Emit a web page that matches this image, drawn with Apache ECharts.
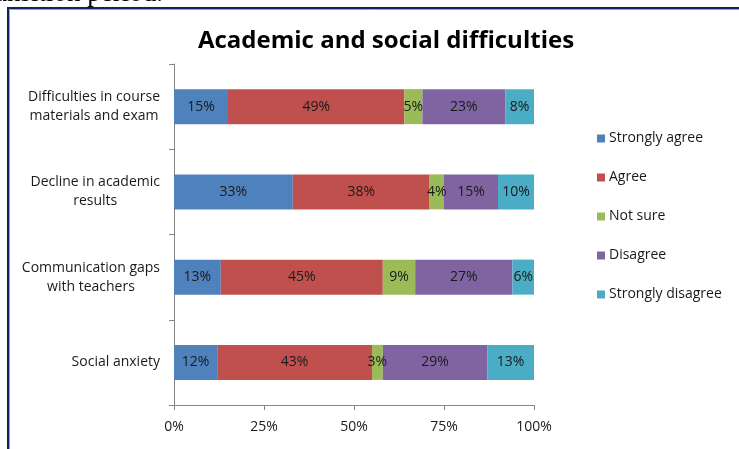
<!DOCTYPE html>
<html>
<head>
<meta charset="utf-8">
<script src="https://cdn.jsdelivr.net/npm/echarts@6/dist/echarts.min.js"></script>
<style>
  html, body {margin: 0; padding: 0; background: #fff;}
  #chart {width: 739px; height: 449px;}
</style>
</head>
<body>
<div id="chart"></div>
<script>
const categories = [
  'Difficulties in course\nmaterials and exam',
  'Decline in academic\nresults',
  'Communication gaps\nwith teachers',
  'Social anxiety'
];
const seriesNames = ['Strongly agree', 'Agree', 'Not sure', 'Disagree', 'Strongly disagree'];
const stronglyAgree = [15, 33, 13, 12];
const agree = [49, 38, 45, 43];
const notSure = [5, 4, 9, 3];
const disagree = [23, 15, 27, 29];
const stronglyDisagree = [8, 10, 6, 13];
const xTicks = [0, 25, 50, 75, 100];
const colors = ['#4F81BD', '#C0504D', '#9BBB59', '#8064A2', '#4BACC6'];

const font = '"Open Sans", Lato, sans-serif';
const allValues = [stronglyAgree, agree, notSure, disagree, stronglyDisagree];

const chart = echarts.init(document.getElementById('chart'));
chart.setOption({
  animation: false,
  color: colors,
  textStyle: {fontFamily: font},
  title: {
    text: 'Academic and social difficulties',
    left: 381,
    textAlign: 'center',
    top: 24,
    textStyle: {fontSize: 24, fontWeight: 'bold', color: '#000', fontFamily: font}
  },
  graphic: [
    {
      type: 'text',
      style: {
        text: 'transition period.',
        x: 163, y: -6,
        align: 'right',
        verticalAlign: 'middle',
        font: '27px "Liberation Serif", serif',
        fill: '#000'
      }
    },
    {
      type: 'rect',
      shape: {x: 8, y: 8, width: 800, height: 500},
      style: {fill: 'none', stroke: '#0f2466', lineWidth: 2}
    },
    {
      type: 'rect',
      shape: {x: 9.5, y: 9.5, width: 800, height: 500},
      style: {fill: 'none', stroke: '#8ea6d6', lineWidth: 1}
    }
  ],
  legend: {
    orient: 'vertical',
    left: 592,
    top: 126,
    itemWidth: 8,
    itemHeight: 8,
    itemGap: 24,
    icon: 'rect',
    data: seriesNames,
    textStyle: {fontSize: 14, color: '#1a1a1a', lineHeight: 15, padding: [0, 0, 0, -1]}
  },
  grid: {left: 174, right: 205, top: 64, bottom: 44},
  xAxis: {
    type: 'value',
    min: 0,
    max: 100,
    interval: 25,
    axisLine: {show: true, lineStyle: {color: '#868686'}},
    axisTick: {show: true, length: 5, lineStyle: {color: '#868686'}},
    splitLine: {show: false},
    axisLabel: {
      margin: 15,
      fontSize: 14,
      color: '#1a1a1a',
      formatter: v => xTicks.includes(v) ? v + '%' : ''
    }
  },
  yAxis: {
    type: 'category',
    inverse: true,
    data: categories,
    axisLine: {show: true, lineStyle: {color: '#868686'}},
    axisTick: {show: true, length: 5, lineStyle: {color: '#868686'}},
    axisLabel: {
      margin: 14,
      fontSize: 14,
      color: '#1a1a1a',
      lineHeight: 19,
      formatter: v => v.split('\n').map(s => '{c|' + s + '}').join('\n'),
      rich: {c: {align: 'center', fontSize: 14, color: '#1a1a1a', lineHeight: 19, fontFamily: font}}
    }
  },
  series: seriesNames.map((name, i) => ({
    name: name,
    type: 'bar',
    stack: 'total',
    barWidth: 35,
    data: allValues[i],
    label: {
      show: true,
      position: 'inside',
      formatter: '{c}%',
      fontSize: 14,
      color: '#1a1a1a',
      fontFamily: font
    }
  }))
});
</script>
</body>
</html>
